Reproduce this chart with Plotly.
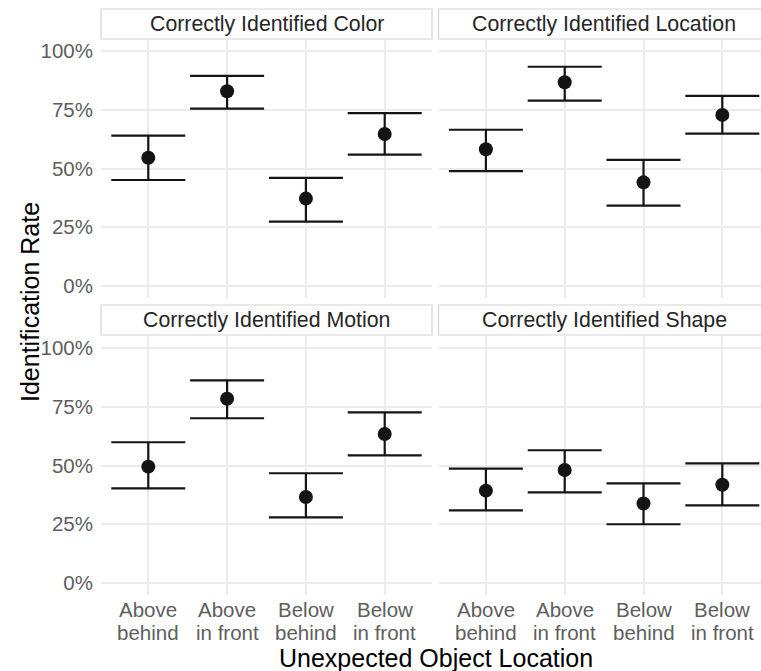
import plotly.graph_objects as go

# Categories on the x axis, each shown as two stacked lines
categories = ["Above behind", "Above in front", "Below behind", "Below in front"]
label_line1 = ["Above", "Above", "Below", "Below"]
label_line2 = ["behind", "in front", "behind", "in front"]

# Facet titles
facets = [
    "Correctly Identified Color",
    "Correctly Identified Location",
    "Correctly Identified Motion",
    "Correctly Identified Shape",
]

# Estimated identification rates with lower / upper interval bounds
color_mean = [0.546, 0.829, 0.372, 0.647]
color_low = [0.451, 0.755, 0.274, 0.559]
color_high = [0.640, 0.894, 0.460, 0.736]

location_mean = [0.582, 0.867, 0.441, 0.728]
location_low = [0.489, 0.789, 0.342, 0.648]
location_high = [0.665, 0.933, 0.537, 0.809]

motion_mean = [0.495, 0.784, 0.366, 0.634]
motion_low = [0.403, 0.701, 0.279, 0.543]
motion_high = [0.599, 0.862, 0.467, 0.726]

shape_mean = [0.393, 0.481, 0.338, 0.418]
shape_low = [0.309, 0.386, 0.250, 0.330]
shape_high = [0.487, 0.565, 0.424, 0.509]

y_ticks = [0, 0.25, 0.5, 0.75, 1.0]

W, H = 761, 671
FONT = "Liberation Sans, Arial, Helvetica, sans-serif"
TICK_COLOR = "#5E5E5E"

# Panel pixel geometry (left, right, top, bottom)
units = 4.2
ppu = (432 - 101) / units
panels = [
    (101, 432, 39.25, 297.75),
    (438.6, 761, 39.25, 297.75),
    (101, 432, 336.25, 594.75),
    (438.6, 761, 336.25, 594.75),
]
strips = [(9, 39), (9, 39), (305, 335), (305, 335)]

series = [
    (color_mean, color_low, color_high),
    (location_mean, location_low, location_high),
    (motion_mean, motion_low, motion_high),
    (shape_mean, shape_low, shape_high),
]

fig = go.Figure()
x_pos = list(range(1, len(categories) + 1))

for i, (mean, low, high) in enumerate(series):
    ax = "" if i == 0 else str(i + 1)
    fig.add_trace(go.Scatter(
        x=x_pos, y=mean,
        mode="markers",
        marker=dict(size=14, color="#141414"),
        error_y=dict(
            type="data", symmetric=False,
            array=[h - m for h, m in zip(high, mean)],
            arrayminus=[m - l for m, l in zip(mean, low)],
            color="#141414", thickness=2.2, width=37,
        ),
        xaxis="x" + ax, yaxis="y" + ax,
        showlegend=False, hoverinfo="skip",
    ))

layout = dict(
    width=W, height=H,
    margin=dict(l=0, r=0, t=0, b=0),
    paper_bgcolor="white", plot_bgcolor="white",
    font=dict(family=FONT, color=TICK_COLOR),
    shapes=[], annotations=[],
)

for i, (l, r, t, b) in enumerate(panels):
    ax = "" if i == 0 else str(i + 1)
    xr = [0.4, 0.4 + (r - l) / ppu]
    layout["xaxis" + ax] = dict(
        domain=[l / W, min(r / W, 1.0)],
        range=xr, tickvals=x_pos, showticklabels=False,
        showgrid=True, gridcolor="#EBEBEB", gridwidth=1.5,
        zeroline=False, showline=False, ticks="",
        anchor="y" + ax, fixedrange=True,
    )
    layout["yaxis" + ax] = dict(
        domain=[1 - b / H, 1 - t / H],
        range=[-0.05, 1.05], tickvals=y_ticks, tickformat=".0%",
        showticklabels=i in (0, 2),
        tickfont=dict(size=20.5, color=TICK_COLOR, family=FONT),
        showgrid=True, gridcolor="#EBEBEB", gridwidth=1.5,
        zeroline=False, showline=False, ticks="",
        ticklabelstandoff=7,
        anchor="x" + ax, fixedrange=True,
    )
    # facet strip box and title
    s_top, s_bot = strips[i]
    right_edge = l + units * ppu
    layout["shapes"].append(dict(
        type="rect", xref="paper", yref="paper",
        x0=l / W, x1=right_edge / W, y0=1 - s_bot / H, y1=1 - s_top / H,
        line=dict(color="#D6D6D6", width=1.2), fillcolor="white", layer="below",
    ))
    layout["annotations"].append(dict(
        text=facets[i], xref="paper", yref="paper",
        x=(l + right_edge) / 2 / W, y=1 - (s_top + s_bot) / 2 / H,
        xanchor="center", yanchor="middle", showarrow=False,
        font=dict(size=21.3, color="#262626", family=FONT),
    ))
    # category labels under the bottom row, placed on the panel's x scale
    if i >= 2:
        for xv, a, c in zip(x_pos, label_line1, label_line2):
            for txt, yc in ((a, 609), (c, 632)):
                layout["annotations"].append(dict(
                    text=txt, xref="x" + ax, yref="paper",
                    x=xv, y=1 - yc / H, xanchor="center", yanchor="middle",
                    showarrow=False,
                    font=dict(size=20.5, color=TICK_COLOR, family=FONT),
                ))

# Axis titles
layout["annotations"].append(dict(
    text="Unexpected Object Location", xref="paper", yref="paper",
    x=435.5 / W, y=1 - 658 / H, xanchor="center", yanchor="middle",
    showarrow=False, font=dict(size=25, color="black", family=FONT),
))
layout["annotations"].append(dict(
    text="Identification Rate", xref="paper", yref="paper",
    x=30 / W, y=1 - 302 / H, xanchor="center", yanchor="middle",
    textangle=-90, showarrow=False, font=dict(size=25, color="black", family=FONT),
))

fig.update_layout(**layout)
fig.write_html("out.html")
